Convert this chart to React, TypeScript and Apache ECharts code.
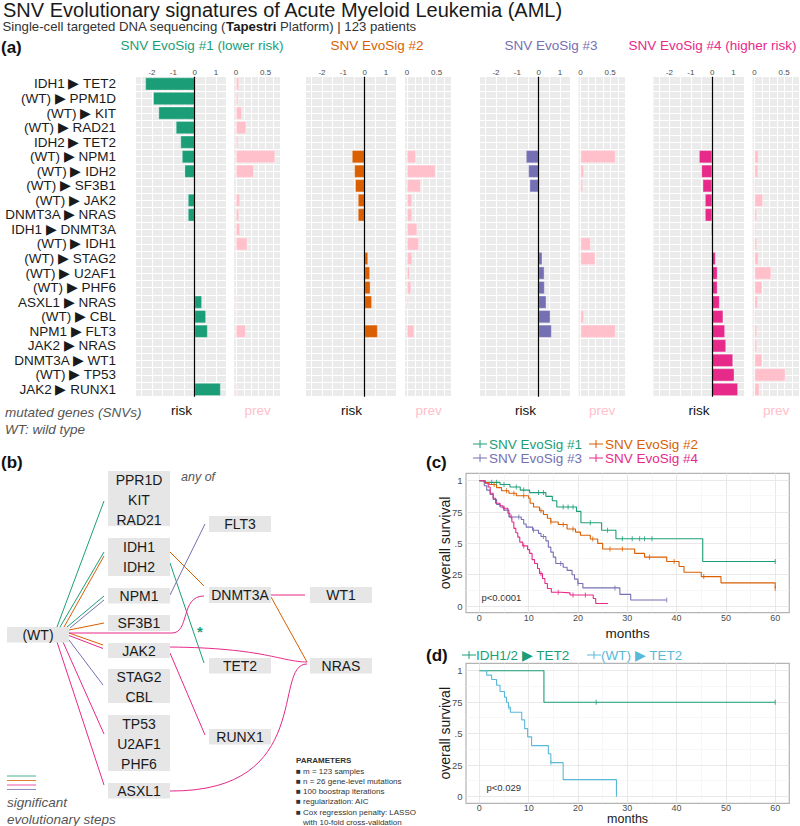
import React, { useEffect, useRef } from 'react';
import * as echarts from 'echarts';

// ---------------- DATA ----------------
const steps = [
  'IDH1 ▶ TET2', '(WT) ▶ PPM1D', '(WT) ▶ KIT', '(WT) ▶ RAD21', 'IDH2 ▶ TET2',
  '(WT) ▶ NPM1', '(WT) ▶ IDH2', '(WT) ▶ SF3B1', '(WT) ▶ JAK2', 'DNMT3A ▶ NRAS',
  'IDH1 ▶ DNMT3A', '(WT) ▶ IDH1', '(WT) ▶ STAG2', '(WT) ▶ U2AF1', '(WT) ▶ PHF6',
  'ASXL1 ▶ NRAS', '(WT) ▶ CBL', 'NPM1 ▶ FLT3', 'JAK2 ▶ NRAS', 'DNMT3A ▶ WT1',
  '(WT) ▶ TP53', 'JAK2 ▶ RUNX1',
];

const sig1Risk = [-2.31, -1.94, -1.69, -0.875, -0.66, -0.59, -0.47, 0, -0.31, -0.31, 0, 0, 0, 0, 0, 0.34, 0.53, 0.61, 0, 0, 0, 1.22];
const sig1Prev = [0.05, 0.034, 0.1, 0.17, 0.034, 0.66, 0.3, 0, 0.067, 0.05, 0.067, 0.19, 0, 0, 0, 0.017, 0.012, 0.16, 0, 0, 0, 0.017];
const sig2Risk = [0, 0, 0, 0, 0, -0.59, -0.48, -0.44, -0.31, -0.31, -0.03, -0.02, 0.16, 0.25, 0.27, 0.34, 0, 0.61, 0, 0, 0, 0];
const sig2Prev = [0, 0, 0, 0, 0, 0.15, 0.48, 0.23, 0.085, 0.085, 0.17, 0.2, 0.085, 0.045, 0.068, 0.023, 0, 0.12, 0, 0, 0, 0];
const sig3Risk = [0, 0, 0, 0, 0, -0.59, -0.48, -0.42, 0, 0, 0, 0, 0.17, 0.27, 0.28, 0.36, 0.55, 0.61, 0, 0, 0, 0];
const sig3Prev = [0, 0, 0, 0, 0, 0.59, 0.057, 0.04, 0, 0, 0, 0.17, 0.25, 0.01, 0.01, 0.01, 0.057, 0.59, 0, 0, 0, 0];
const sig4Risk = [0, 0, 0, 0, 0, -0.61, -0.5, -0.44, -0.33, -0.33, -0.05, -0.03, 0.16, 0.25, 0.25, 0.35, 0.52, 0.6, 0.65, 0.98, 1.04, 1.21];
const sig4Prev = [0, 0, 0, 0, 0, 0.067, 0.06, 0.024, 0.14, 0.04, 0.024, 0.04, 0.067, 0.28, 0.13, 0.055, 0.024, 0.04, 0.04, 0.13, 0.52, 0.08];

const sigNames = ['SNV EvoSig #1 (lower risk)', 'SNV EvoSig #2', 'SNV EvoSig #3', 'SNV EvoSig #4 (higher risk)'];
const kmNames = ['SNV EvoSig #1', 'SNV EvoSig #2', 'SNV EvoSig #3', 'SNV EvoSig #4'];

const riskTicks = [-2, -1, 0, 1];
const prevTicks = [0, 0.5];
const monthTicks = [0, 10, 20, 30, 40, 50, 60];
const survTicks = [0, 0.25, 0.5, 0.75, 1];
const survTickLabels = ['0', '.25', '.5', '.75', '1'];

// Kaplan-Meier curves: [month, survival]
const kmSig1 = [[0, 1], [1.2, 0.987], [4.2, 0.97], [6.2, 0.95], [8.3, 0.925], [10.2, 0.905], [13.5, 0.875], [14.8, 0.84], [15.7, 0.79], [19.7, 0.755], [20.6, 0.665], [24.8, 0.605], [27.7, 0.537], [45.3, 0.356], [60, 0.356]];
const kmSig2 = [[0, 1], [1, 0.985], [2, 0.97], [3.5, 0.945], [4.5, 0.92], [6, 0.9], [7.5, 0.88], [10, 0.86], [10.3, 0.82], [11, 0.79], [12.2, 0.76], [13, 0.73], [13.8, 0.7], [14.5, 0.67], [16, 0.65], [17.8, 0.615], [19.5, 0.59], [20.5, 0.565], [22.5, 0.535], [24, 0.5], [25, 0.455], [31.5, 0.42], [33.5, 0.39], [38, 0.355], [40.5, 0.315], [41.5, 0.27], [45, 0.235], [49, 0.185], [60, 0.14]];
const kmSig3 = [[0, 1], [1, 0.96], [1.5, 0.925], [2.2, 0.89], [2.8, 0.85], [3.5, 0.81], [4.2, 0.79], [5, 0.765], [6, 0.71], [8.5, 0.69], [9, 0.655], [9.5, 0.63], [10.8, 0.605], [12, 0.58], [12.5, 0.555], [13.5, 0.52], [14, 0.47], [14.5, 0.43], [15, 0.39], [15.5, 0.34], [17, 0.31], [17.8, 0.285], [18.8, 0.25], [19.3, 0.215], [20, 0.18], [21, 0.145], [28.5, 0.093], [30.7, 0.048], [38, 0.048]];
const kmSig4 = [[0, 1], [1.2, 0.98], [1.8, 0.95], [2.2, 0.9], [2.8, 0.86], [3.3, 0.82], [4.2, 0.8], [4.8, 0.78], [5.8, 0.74], [6.2, 0.71], [6.6, 0.67], [7, 0.62], [7.4, 0.585], [7.8, 0.55], [8.2, 0.51], [8.8, 0.48], [9.8, 0.45], [10.2, 0.42], [10.7, 0.37], [11.2, 0.34], [11.8, 0.3], [12.2, 0.26], [12.8, 0.22], [13.3, 0.18], [13.8, 0.14], [14.6, 0.11], [16.5, 0.105], [18.4, 0.088], [23.1, 0.06], [23.6, 0.02], [26.1, 0.02]];
const censSig1 = [2.5, 3.5, 5, 7.5, 9, 12, 13, 17, 18, 19, 22.5, 26, 29, 31, 32.5, 33.5, 35, 60];
const censSig2 = [3, 5.5, 7, 9, 12.5, 14.5, 17, 19, 23, 26.5, 29, 34.5, 39.5, 45.5, 60];
const censSig3 = [6.5, 8, 11, 13, 16.5, 20, 27.5, 38];
const censSig4 = [5, 9, 12.5, 16, 19, 21.5];

const tet2Names = ['IDH1/2 ▶ TET2', '(WT) ▶ TET2'];
const kmTet2Idh = [[0, 1], [13.1, 0.75], [60, 0.75]];
const kmTet2Wt = [[0.5, 1], [1.5, 0.965], [2.5, 0.93], [3.5, 0.885], [4.2, 0.835], [5.1, 0.79], [5.5, 0.75], [5.9, 0.71], [6.3, 0.67], [8.6, 0.61], [9.2, 0.54], [9.8, 0.475], [10.6, 0.405], [14, 0.34], [14.5, 0.27], [17, 0.135], [27.8, 0]];
const censTet2Idh = [23.7, 60];
const censTet2Wt = [6, 14.5];

const paramLines = ['m = 123 samples', 'n = 26 gene-level mutations', '100 boostrap iterations', 'regularization: AIC', 'Cox regression penalty: LASSO'];

// ---------------- STYLE / LAYOUT ----------------
const FF = '"Liberation Sans", Arial, Helvetica, sans-serif';
const C1 = '#1b9e77', C2 = '#d95f02', C3 = '#7570b3', C4 = '#e7298a';
const PREV = '#ffc0cb', BLUE = '#5ab9d8';
const sigColors = [C1, C2, C3, C4];
const panelLayout = [
  { riskLeft: 136, prevLeft: 234, titleX: 202 },
  { riskLeft: 306, prevLeft: 405, titleX: 377 },
  { riskLeft: 480, prevLeft: 578.5, titleX: 551 },
  { riskLeft: 653.5, prevLeft: 752.5, titleX: 712.5 },
];
const RISK_W = 91, PREV_W = 47, A_TOP = 76.7, A_H = 320;

function survAt(curve: number[][], t: number) {
  let s = curve[0][1];
  for (const p of curve) if (p[0] <= t) s = p[1];
  return s;
}

function txt(text: string, x: number, y: number, o: any = {}, extra: any = {}) {
  return {
    type: 'text', x, y, silent: true, ...extra,
    style: { text, fontSize: 12, fill: '#1a1a1a', fontFamily: FF, align: 'left', verticalAlign: 'middle', ...o },
  };
}

function buildOption() {
  const grids: any[] = [], xAxes: any[] = [], yAxes: any[] = [], series: any[] = [];
  const graphic: any[] = [];
  const sigRisk = [sig1Risk, sig2Risk, sig3Risk, sig4Risk];
  const sigPrev = [sig1Prev, sig2Prev, sig3Prev, sig4Prev];

  const riskGrid: number[] = [];
  for (let v = -2.5; v <= 1.5001; v += 0.5) if (Math.abs(v) > 1e-9) riskGrid.push(v);
  const prevGrid: number[] = [];
  for (let v = 0; v <= 0.7501; v += 0.125) prevGrid.push(v);

  const catAxis = (gi: number, labels: boolean) => ({
    gridIndex: gi, type: 'category', data: steps, inverse: true,
    axisLine: { show: false }, axisTick: { show: false },
    splitLine: { show: true, interval: 0, lineStyle: { color: '#ffffff', width: 1 } },
    axisLabel: { show: labels, interval: 0, fontSize: 13.5, color: '#1a1a1a', margin: 20, fontFamily: FF },
  });
  const gridLines = (gi: number, xs: number[]) => ({
    type: 'line', xAxisIndex: gi, yAxisIndex: gi, data: [], z: 1, silent: true,
    markLine: {
      z: 1, silent: true, symbol: ['none', 'none'], label: { show: false }, animation: false,
      lineStyle: { color: '#ffffff', width: 1, type: 'solid' },
      data: [...xs.map((v) => ({ xAxis: v })), ...steps.map((s) => ({ yAxis: s }))],
    },
  });

  sigNames.forEach((name, i) => {
    const L = panelLayout[i];
    // risk panel
    let gi = grids.length;
    grids.push({ left: L.riskLeft, top: A_TOP, width: RISK_W, height: A_H, show: true, backgroundColor: '#ebebeb', borderWidth: 0 });
    xAxes.push({
      gridIndex: gi, type: 'value', position: 'top', min: -2.75, max: 1.52,
      axisLine: { show: false }, axisTick: { show: false }, splitLine: { show: false },
      axisLabel: { customValues: riskTicks, fontSize: 8, color: '#4d4d4d', margin: 0.5, fontFamily: FF },
    });
    yAxes.push(catAxis(gi, i === 0));
    series.push(gridLines(gi, riskGrid));
    series.push({
      type: 'bar', xAxisIndex: gi, yAxisIndex: gi, z: 2, barWidth: '88%',
      data: sigRisk[i].map((v) => (v === 0 ? null : v)),
      itemStyle: { color: sigColors[i], borderColor: 'rgba(255,255,255,0.7)', borderWidth: 0.5 },
      markLine: {
        z: 5, silent: true, symbol: ['none', 'none'], label: { show: false }, animation: false,
        lineStyle: { color: '#000', width: 1.2, type: 'solid' }, data: [{ xAxis: 0 }],
      },
    });
    // prev panel
    gi = grids.length;
    grids.push({ left: L.prevLeft, top: A_TOP, width: PREV_W, height: A_H, show: true, backgroundColor: '#ebebeb', borderWidth: 0 });
    xAxes.push({
      gridIndex: gi, type: 'value', position: 'top', min: -0.035, max: 0.76,
      axisLine: { show: false }, axisTick: { show: false }, splitLine: { show: false },
      axisLabel: { customValues: prevTicks, fontSize: 8, color: '#4d4d4d', margin: 0.5, fontFamily: FF },
    });
    yAxes.push(catAxis(gi, false));
    series.push(gridLines(gi, prevGrid));
    series.push({
      type: 'bar', xAxisIndex: gi, yAxisIndex: gi, z: 2, barWidth: '88%',
      data: sigPrev[i].map((v) => (v === 0 ? null : v)),
      itemStyle: { color: PREV, borderColor: 'rgba(255,255,255,0.7)', borderWidth: 0.5 },
    });

    graphic.push(txt(name, L.titleX, 45.5, { fontSize: 13.5, fill: sigColors[i], align: 'center' }));
    graphic.push(txt('risk', L.riskLeft + RISK_W / 2, 410, { fontSize: 13.5, fill: '#111', align: 'center' }));
    graphic.push(txt('prev', L.prevLeft + PREV_W / 2, 410, { fontSize: 13.5, fill: PREV, align: 'center' }));
  });

  // ---- KM panels ----
  const kmGrid: any[] = [];
  for (let v = 0; v <= 60; v += 5) kmGrid.push({ xAxis: v, lineStyle: { color: v % 10 === 0 ? '#e6e6e6' : '#f1f1f1', width: v % 10 === 0 ? 0.9 : 0.6, type: 'solid' } });
  for (let k = 0; k <= 8; k++) kmGrid.push({ yAxis: k * 0.125, lineStyle: { color: k % 2 === 0 ? '#e6e6e6' : '#f1f1f1', width: k % 2 === 0 ? 0.9 : 0.6, type: 'solid' } });

  const kmPanel = (top: number, height: number, curves: any[]) => {
    const gi = grids.length;
    grids.push({ left: 466, top, width: 323.3, height, show: true, backgroundColor: '#fff', borderColor: '#b3b3b3', borderWidth: 1.2 });
    xAxes.push({
      gridIndex: gi, type: 'value', min: -2.7, max: 62.85,
      axisLine: { show: false }, axisTick: { show: false }, splitLine: { show: false },
      axisLabel: { customValues: monthTicks, fontSize: 9, color: '#4d4d4d', margin: 0.5, fontFamily: FF },
    });
    yAxes.push({
      gridIndex: gi, type: 'value', min: -0.053, max: 1.059,
      axisLine: { show: false }, axisTick: { show: false }, splitLine: { show: false },
      axisLabel: {
        customValues: survTicks, fontSize: 9.5, color: '#4d4d4d', margin: 3.5, fontFamily: FF,
        formatter: (v: number) => {
          const i = survTicks.findIndex((t) => Math.abs(t - v) < 1e-6);
          return i >= 0 ? survTickLabels[i] : '';
        },
      },
    });
    series.push({
      type: 'line', xAxisIndex: gi, yAxisIndex: gi, data: [], z: 1, silent: true,
      markLine: { z: 1, silent: true, symbol: ['none', 'none'], label: { show: false }, animation: false, data: kmGrid },
    });
    curves.forEach((c) => {
      series.push({
        type: 'line', xAxisIndex: gi, yAxisIndex: gi, step: 'end', symbol: 'none', showSymbol: false, z: 3,
        data: c.data, lineStyle: { color: c.color, width: 1.1 }, itemStyle: { color: c.color }, silent: true,
      });
      series.push({
        type: 'scatter', xAxisIndex: gi, yAxisIndex: gi, symbol: 'rect', symbolSize: [1, 5], z: 4, silent: true,
        data: c.cens.map((t: number) => [t, survAt(c.data, t)]), itemStyle: { color: c.color },
      });
    });
  };
  kmPanel(473.3, 139.4, [
    { data: kmSig1, cens: censSig1, color: C1 },
    { data: kmSig2, cens: censSig2, color: C2 },
    { data: kmSig3, cens: censSig3, color: C3 },
    { data: kmSig4, cens: censSig4, color: C4 },
  ]);
  kmPanel(663.3, 140, [
    { data: kmTet2Idh, cens: censTet2Idh, color: C1 },
    { data: kmTet2Wt, cens: censTet2Wt, color: BLUE },
  ]);

  // ---- titles ----
  graphic.push(txt('SNV Evolutionary signatures of Acute Myeloid Leukemia (AML)', 3, 9.5, { fontSize: 20, fill: '#1a1a1a' }));
  graphic.push(txt('Single-cell targeted DNA sequencing ({b|Tapestri} Platform) | 123 patients', 2.5, 26.5, {
    fontSize: 13.2, fill: '#333',
    rich: { b: { fontSize: 13.2, fontWeight: 'bold', fill: '#1a1a1a', fontFamily: FF } },
  }));
  graphic.push(txt('(a)', 1, 47, { fontSize: 17, fontWeight: 'bold', fill: '#111' }));
  graphic.push(txt('mutated genes (SNVs)', 5, 412.5, { fontSize: 13.5, fontStyle: 'italic', fill: '#555' }));
  graphic.push(txt('WT: wild type', 5, 429, { fontSize: 13.5, fontStyle: 'italic', fill: '#555' }));

  // ---- KM labels / legends ----
  graphic.push(txt('(c)', 426, 462, { fontSize: 17, fontWeight: 'bold', fill: '#111' }));
  graphic.push(txt('(d)', 426, 655, { fontSize: 17, fontWeight: 'bold', fill: '#111' }));
  const legendIcon = (x: number, y: number, color: string) => [
    { type: 'line', silent: true, shape: { x1: x, y1: y, x2: x + 14, y2: y }, style: { stroke: color, lineWidth: 1 } },
    { type: 'line', silent: true, shape: { x1: x + 7, y1: y - 4, x2: x + 7, y2: y + 4 }, style: { stroke: color, lineWidth: 1 } },
  ];
  const kmLegendPos = [[473, 444], [589, 444], [473, 458], [589, 458]];
  kmNames.forEach((n, i) => {
    const [x, y] = kmLegendPos[i];
    graphic.push(...legendIcon(x, y, sigColors[i]));
    graphic.push(txt(n, x + 16, y, { fontSize: 13.5, fill: sigColors[i] }));
  });
  const tetLegendPos = [[462, 655], [587, 655]];
  const tetColors = [C1, BLUE];
  tet2Names.forEach((n, i) => {
    const [x, y] = tetLegendPos[i];
    graphic.push(...legendIcon(x, y, tetColors[i]));
    graphic.push(txt(n, x + 14, y, { fontSize: 13.5, fill: tetColors[i] }));
  });
  graphic.push(txt('p<0.0001', 481.5, 597, { fontSize: 9.5, fill: '#333' }));
  graphic.push(txt('p<0.029', 486.5, 787.5, { fontSize: 9.5, fill: '#333' }));
  graphic.push(txt('months', 627.6, 633.5, { fontSize: 13.5, align: 'center' }));
  graphic.push(txt('months', 627.6, 819.3, { fontSize: 12.5, align: 'center' }));
  graphic.push(txt('overall survival', 445, 543, { fontSize: 14, align: 'center' }, { rotation: Math.PI / 2 }));
  graphic.push(txt('overall survival', 445, 733.3, { fontSize: 14, align: 'center' }, { rotation: Math.PI / 2 }));

  // ---- panel (b): network diagram ----
  graphic.push(txt('(b)', 1, 462, { fontSize: 17, fontWeight: 'bold', fill: '#111' }));
  const edges: any[] = [
    [C1, 57, 627, 104, 501], [C1, 60, 627, 104, 552], [C2, 64, 627, 104, 556],
    [C1, 67, 627, 104, 596], [C3, 70, 628, 104, 600], [C2, 69, 630, 104, 623],
    [C2, 69, 633, 103, 645], [C4, 69, 635.5, 103, 648.5], [C3, 69, 640, 103, 685],
    [C4, 63, 642, 104, 734], [C4, 57, 642, 104, 785],
    [C2, 170, 552, 204, 586], [C1, 170, 563, 204, 663], [C3, 170, 595, 205, 524],
    [C4, 271, 595, 305, 595], [C2, 271, 597, 307, 662], [C4, 170, 653, 205, 735],
    [C4, 69, 633, 172, 633],
  ];
  edges.forEach(([c, x1, y1, x2, y2]) => graphic.push({ type: 'line', silent: true, shape: { x1, y1, x2, y2 }, style: { stroke: c, lineWidth: 1 } }));
  const curves: any[] = [
    [C4, 172, 633, 190, 633, 180, 596, 204, 596],
    [C4, 170, 647, 265, 648, 282, 662, 307, 662],
    [C4, 170, 791, 315, 792, 272, 664, 307, 664],
  ];
  curves.forEach(([c, x1, y1, cpx1, cpy1, cpx2, cpy2, x2, y2]) => graphic.push({
    type: 'bezierCurve', silent: true, shape: { x1, y1, cpx1, cpy1, cpx2, cpy2, x2, y2 }, style: { stroke: c, lineWidth: 1, fill: 'none' },
  }));
  const boxes: any[] = [
    [108, 471, 62, 55, ['PPR1D', 'KIT', 'RAD21'], [479.5, 500, 520]],
    [108, 538, 62, 38, ['IDH1', 'IDH2'], [547, 567]],
    [108, 588, 62, 15.5, ['NPM1'], [596]],
    [108, 615, 62, 16, ['SF3B1'], [623]],
    [108, 643, 62, 15, ['JAK2'], [650.5]],
    [108, 669, 62, 34, ['STAG2', 'CBL'], [676.5, 696.5]],
    [108, 715, 62, 56, ['TP53', 'U2AF1', 'PHF6'], [724, 744, 764]],
    [108, 783, 62, 15.5, ['ASXL1'], [791]],
    [209, 516, 62, 16, ['FLT3'], [524]],
    [209, 587, 62, 16, ['DNMT3A'], [595]],
    [209, 658, 62, 15.5, ['TET2'], [666]],
    [209, 729, 62, 15.5, ['RUNX1'], [737]],
    [310, 587, 62, 16, ['WT1'], [595]],
    [310, 658, 62, 15.5, ['NRAS'], [666]],
    [7, 627, 62, 15.5, ['(WT)'], [635]],
  ];
  boxes.forEach(([x, y, w, h, lines, ly]) => {
    graphic.push({ type: 'rect', silent: true, shape: { x, y, width: w, height: h }, style: { fill: '#e6e6e6' } });
    lines.forEach((l: string, k: number) => graphic.push(txt(l, x + w / 2, ly[k], { fontSize: 14, align: 'center', fill: '#1a1a1a' })));
  });
  graphic.push(txt('any of', 181, 477, { fontSize: 12.5, fontStyle: 'italic', fill: '#555' }));
  graphic.push(txt('*', 200, 631, { fontSize: 15, fontWeight: 'bold', fill: C1, align: 'center' }));
  [C1, C2, C4, C3].forEach((c, k) => graphic.push({
    type: 'line', silent: true, shape: { x1: 7, y1: 776 + k * 4.5, x2: 36, y2: 776 + k * 4.5 }, style: { stroke: c, lineWidth: 0.8 },
  }));
  graphic.push(txt('significant', 7, 802.5, { fontSize: 13.5, fontStyle: 'italic', fill: '#555' }));
  graphic.push(txt('evolutionary steps', 7, 819, { fontSize: 13.5, fontStyle: 'italic', fill: '#555' }));
  graphic.push(txt('PARAMETERS', 296, 760, { fontSize: 8, fontWeight: 'bold', fill: '#333' }));
  paramLines.forEach((l, k) => graphic.push(txt('■ ' + l, 296, 771 + k * 10.3, { fontSize: 8, fill: '#333' })));
  graphic.push(txt('with 10-fold cross-validation', 303, 822, { fontSize: 8, fill: '#333' }));

  return {
    animation: false,
    backgroundColor: '#ffffff',
    textStyle: { fontFamily: FF },
    grid: grids,
    xAxis: xAxes,
    yAxis: yAxes,
    series,
    graphic: { elements: graphic },
  };
}

export default function App() {
  const ref = useRef<HTMLDivElement>(null);
  useEffect(() => {
    if (!ref.current) return;
    const chart = echarts.init(ref.current, null, { renderer: 'svg' });
    chart.setOption(buildOption() as any);
    return () => chart.dispose();
  }, []);
  return <div ref={ref} style={{ position: 'fixed', left: 0, top: 0, width: 800, height: 826, background: '#fff' }} />;
}
